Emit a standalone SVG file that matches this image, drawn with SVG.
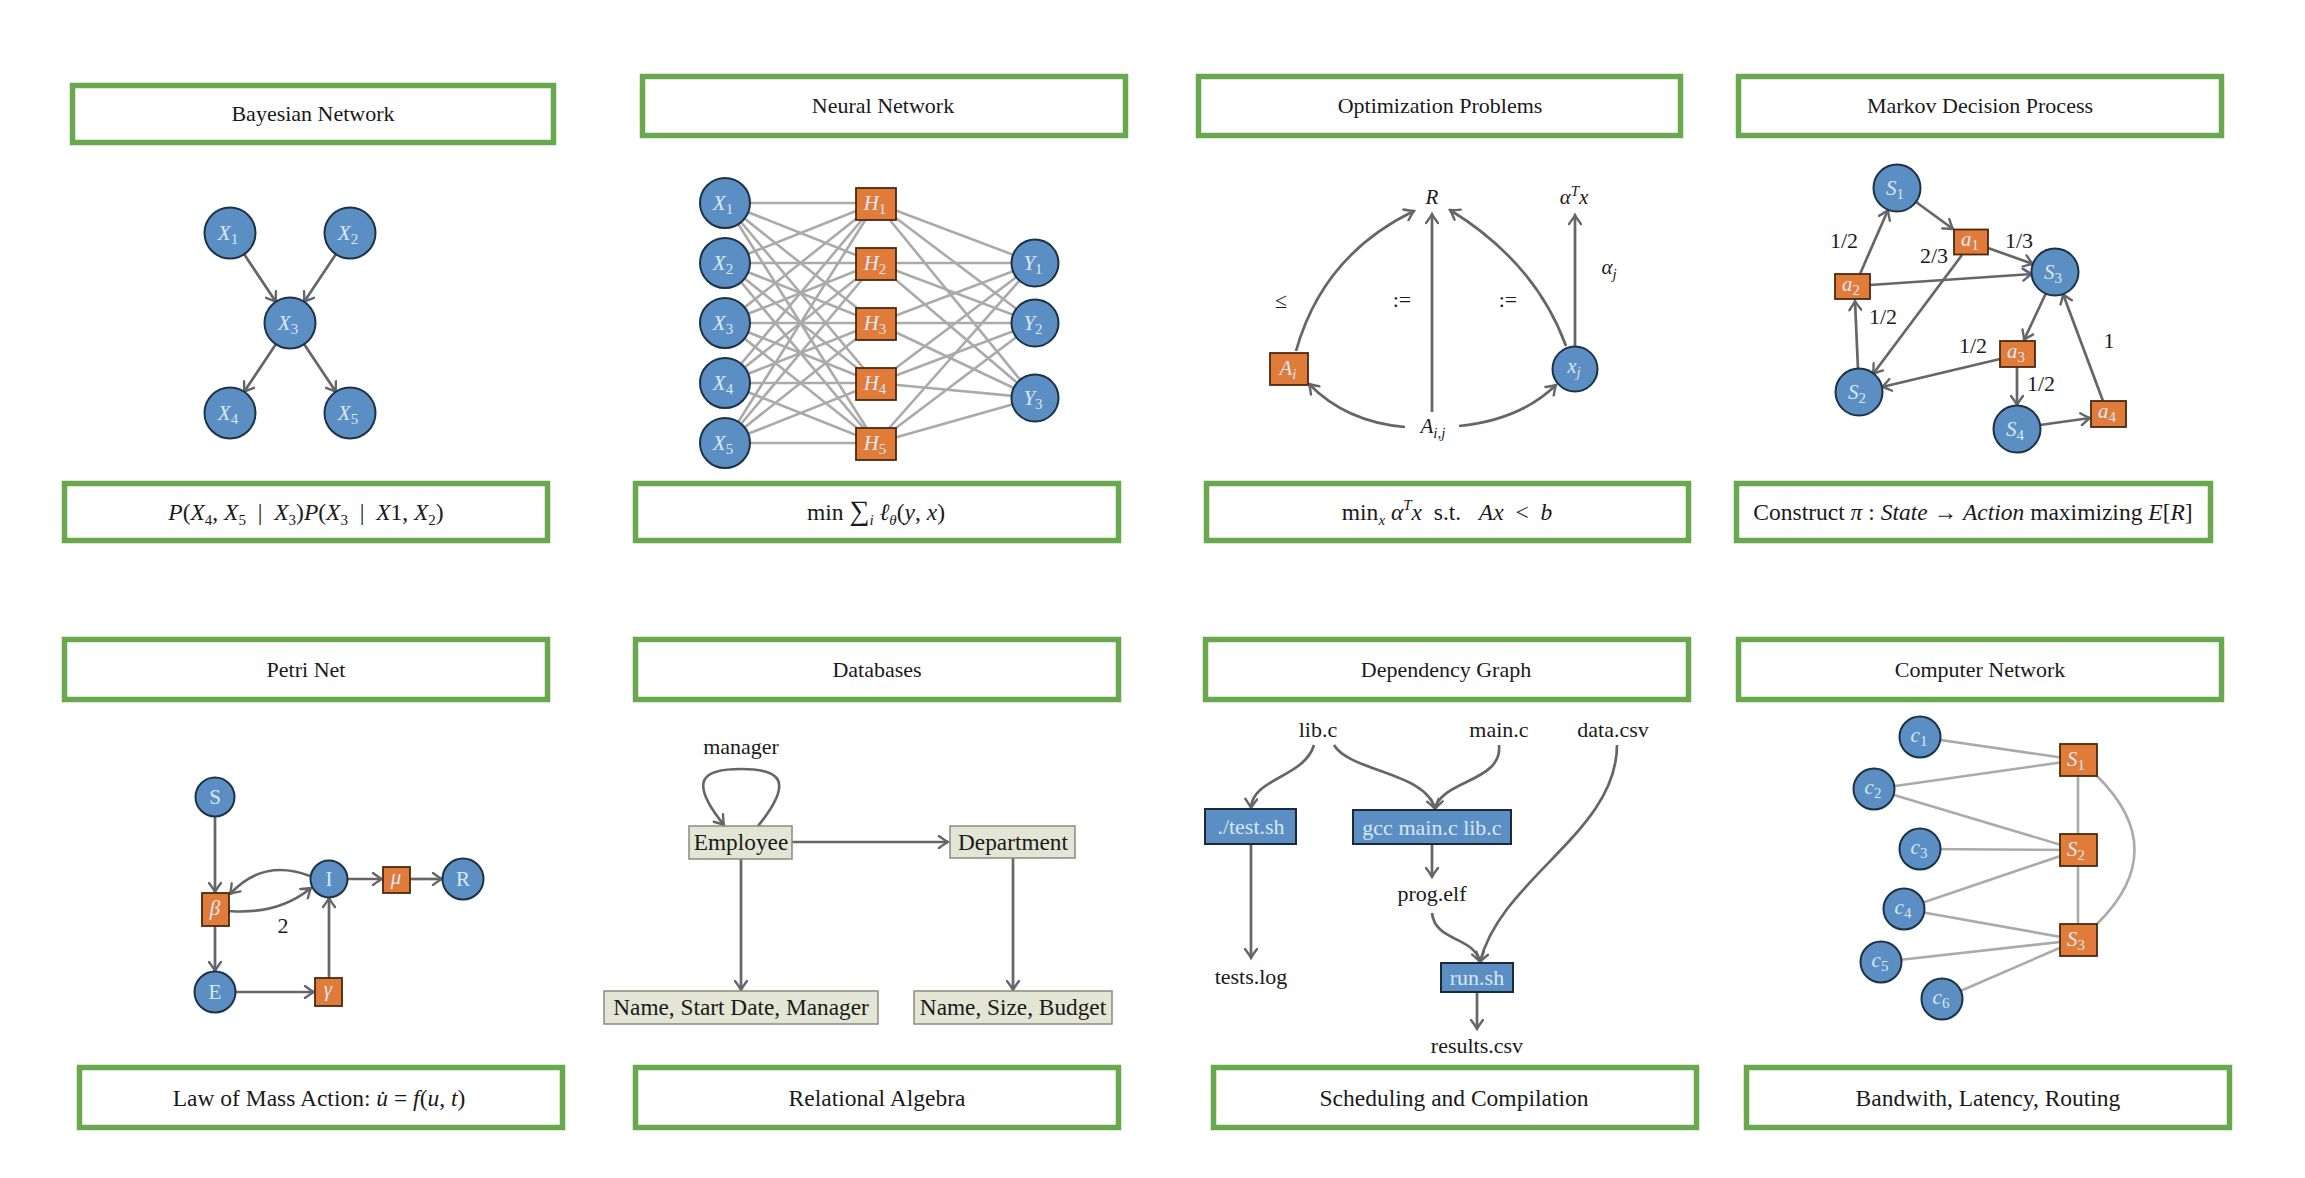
<svg xmlns="http://www.w3.org/2000/svg" width="2305" height="1178" viewBox="0 0 2305 1178">
<defs>
<style>
.frame{fill:#fff;stroke:#6aa84f;stroke-width:5.5}
.ft{font-family:"Liberation Serif","DejaVu Serif",serif;font-size:22px;fill:#1a1a1a;text-anchor:middle}
.ct{font-family:"Liberation Serif","DejaVu Serif",serif;font-size:23.5px;fill:#1a1a1a;text-anchor:middle}
.mi{font-style:italic}
.sb{font-size:15px;font-style:normal}
.si{font-style:italic}
.bn{fill:#5b8ec2;stroke:#1e3246;stroke-width:2}
.on{fill:#e07b39;stroke:#4a2a12;stroke-width:1.8}
.nl{font-family:"Liberation Serif","DejaVu Serif",serif;font-style:italic;font-size:21px;fill:#d9e8f7;text-anchor:middle}
.nu{font-family:"Liberation Serif","DejaVu Serif",serif;font-size:21px;fill:#d9e8f7;text-anchor:middle}
.e{fill:none;stroke:#666;stroke-width:2.7;marker-end:url(#arr)}
.l{fill:none;stroke:#aaa;stroke-width:2.6}
.lbl{font-family:"Liberation Serif","DejaVu Serif",serif;font-size:22px;fill:#1a1a1a;text-anchor:middle}
.lbi{font-family:"Liberation Serif","DejaVu Serif",serif;font-size:21px;font-style:italic;fill:#1a1a1a;text-anchor:middle}
.db{fill:#e3e6d4;stroke:#8a8a80;stroke-width:1.5}
.dbt{font-family:"Liberation Serif","DejaVu Serif",serif;font-size:23.3px;fill:#1a1a1a;text-anchor:middle}
.dg{fill:#5b8ec2;stroke:#1a2a3a;stroke-width:2}
.dgt{font-family:"Liberation Serif","DejaVu Serif",serif;font-size:22px;fill:#d6e7f8;text-anchor:middle}
</style>
<marker id="arr" viewBox="-11 -7 13 14" refX="0" refY="0" markerWidth="13" markerHeight="14" markerUnits="userSpaceOnUse" orient="auto">
<path d="M-9,-6 Q-3,-1.5 0,0 Q-3,1.5 -9,6" fill="none" stroke="#666" stroke-width="2.4" stroke-linecap="round"/>
</marker>
</defs>
<rect x="0" y="0" width="2305" height="1178" fill="#fff"/>

<!-- Panel 1: Bayesian Network -->
<g id="p1-title"><rect class="frame" x="72.5" y="85.5" width="481" height="57"/><text class="ft" x="313" y="121">Bayesian Network</text></g>
<g id="p1-caption"><rect class="frame" x="64.5" y="483.5" width="483" height="57"/>
<text class="ct" x="306" y="520" font-size="25" xml:space="preserve"><tspan class="mi">P</tspan>(<tspan class="mi">X</tspan><tspan class="sb" dy="5">4</tspan><tspan dy="-5">, </tspan><tspan class="mi">X</tspan><tspan class="sb" dy="5">5</tspan><tspan dy="-5">  |  </tspan><tspan class="mi">X</tspan><tspan class="sb" dy="5">3</tspan><tspan dy="-5">)</tspan><tspan class="mi">P</tspan>(<tspan class="mi">X</tspan><tspan class="sb" dy="5">3</tspan><tspan dy="-5">  |  </tspan><tspan class="mi">X</tspan>1, <tspan class="mi">X</tspan><tspan class="sb" dy="5">2</tspan><tspan dy="-5">)</tspan></text></g>
<g id="p1-edges">
<line class="e" x1="244" y1="254" x2="276" y2="302"/>
<line class="e" x1="336" y1="254" x2="304" y2="302"/>
<line class="e" x1="276" y1="344" x2="244" y2="392"/>
<line class="e" x1="304" y1="344" x2="336" y2="392"/>
</g>
<g id="bn-x1"><circle class="bn" cx="230" cy="233" r="25.5"/><text class="nl" x="228" y="240">X<tspan class="sb" dy="4">1</tspan></text></g>
<g id="bn-x2"><circle class="bn" cx="350" cy="233" r="25.5"/><text class="nl" x="348" y="240">X<tspan class="sb" dy="4">2</tspan></text></g>
<g id="bn-x3"><circle class="bn" cx="290" cy="323" r="25.5"/><text class="nl" x="288" y="330">X<tspan class="sb" dy="4">3</tspan></text></g>
<g id="bn-x4"><circle class="bn" cx="230" cy="413" r="25.5"/><text class="nl" x="228" y="420">X<tspan class="sb" dy="4">4</tspan></text></g>
<g id="bn-x5"><circle class="bn" cx="350" cy="413" r="25.5"/><text class="nl" x="348" y="420">X<tspan class="sb" dy="4">5</tspan></text></g>

<!-- Panel 2: Neural Network -->
<g id="p2-title"><rect class="frame" x="642.5" y="76.5" width="483" height="59"/><text class="ft" x="883" y="113">Neural Network</text></g>
<g id="p2-caption"><rect class="frame" x="635.5" y="483.5" width="483" height="57"/>
<text class="ct" x="876" y="520">min <tspan font-size="28">∑</tspan><tspan class="sb si" dy="5">i</tspan><tspan dy="-5"> </tspan><tspan class="mi">ℓ</tspan><tspan class="sb si" dy="5">θ</tspan><tspan dy="-5">(</tspan><tspan class="mi">y</tspan>, <tspan class="mi">x</tspan>)</text></g>
<g id="p2-edges">
<line class="l" x1="725" y1="203" x2="876" y2="203"/><line class="l" x1="725" y1="203" x2="876" y2="263"/><line class="l" x1="725" y1="203" x2="876" y2="323"/><line class="l" x1="725" y1="203" x2="876" y2="383"/><line class="l" x1="725" y1="203" x2="876" y2="443"/>
<line class="l" x1="725" y1="263" x2="876" y2="203"/><line class="l" x1="725" y1="263" x2="876" y2="263"/><line class="l" x1="725" y1="263" x2="876" y2="323"/><line class="l" x1="725" y1="263" x2="876" y2="383"/><line class="l" x1="725" y1="263" x2="876" y2="443"/>
<line class="l" x1="725" y1="323" x2="876" y2="203"/><line class="l" x1="725" y1="323" x2="876" y2="263"/><line class="l" x1="725" y1="323" x2="876" y2="323"/><line class="l" x1="725" y1="323" x2="876" y2="383"/><line class="l" x1="725" y1="323" x2="876" y2="443"/>
<line class="l" x1="725" y1="383" x2="876" y2="203"/><line class="l" x1="725" y1="383" x2="876" y2="263"/><line class="l" x1="725" y1="383" x2="876" y2="323"/><line class="l" x1="725" y1="383" x2="876" y2="383"/><line class="l" x1="725" y1="383" x2="876" y2="443"/>
<line class="l" x1="725" y1="443" x2="876" y2="203"/><line class="l" x1="725" y1="443" x2="876" y2="263"/><line class="l" x1="725" y1="443" x2="876" y2="323"/><line class="l" x1="725" y1="443" x2="876" y2="383"/><line class="l" x1="725" y1="443" x2="876" y2="443"/>
<line class="l" x1="876" y1="203" x2="1035" y2="263"/><line class="l" x1="876" y1="203" x2="1035" y2="323"/><line class="l" x1="876" y1="203" x2="1035" y2="398"/>
<line class="l" x1="876" y1="263" x2="1035" y2="263"/><line class="l" x1="876" y1="263" x2="1035" y2="323"/><line class="l" x1="876" y1="263" x2="1035" y2="398"/>
<line class="l" x1="876" y1="323" x2="1035" y2="263"/><line class="l" x1="876" y1="323" x2="1035" y2="323"/><line class="l" x1="876" y1="323" x2="1035" y2="398"/>
<line class="l" x1="876" y1="383" x2="1035" y2="263"/><line class="l" x1="876" y1="383" x2="1035" y2="323"/><line class="l" x1="876" y1="383" x2="1035" y2="398"/>
<line class="l" x1="876" y1="443" x2="1035" y2="263"/><line class="l" x1="876" y1="443" x2="1035" y2="323"/><line class="l" x1="876" y1="443" x2="1035" y2="398"/>
</g>
<g id="nn-x1"><circle class="bn" cx="725" cy="203" r="25"/><text class="nl" x="723" y="210">X<tspan class="sb" dy="4">1</tspan></text></g>
<g id="nn-x2"><circle class="bn" cx="725" cy="263" r="25"/><text class="nl" x="723" y="270">X<tspan class="sb" dy="4">2</tspan></text></g>
<g id="nn-x3"><circle class="bn" cx="725" cy="323" r="25"/><text class="nl" x="723" y="330">X<tspan class="sb" dy="4">3</tspan></text></g>
<g id="nn-x4"><circle class="bn" cx="725" cy="383" r="25"/><text class="nl" x="723" y="390">X<tspan class="sb" dy="4">4</tspan></text></g>
<g id="nn-x5"><circle class="bn" cx="725" cy="443" r="25"/><text class="nl" x="723" y="450">X<tspan class="sb" dy="4">5</tspan></text></g>
<g id="nn-h1"><rect class="on" x="856" y="188" width="40" height="32"/><text class="nl" x="875" y="210">H<tspan class="sb" dy="4">1</tspan></text></g>
<g id="nn-h2"><rect class="on" x="856" y="248" width="40" height="32"/><text class="nl" x="875" y="270">H<tspan class="sb" dy="4">2</tspan></text></g>
<g id="nn-h3"><rect class="on" x="856" y="308" width="40" height="32"/><text class="nl" x="875" y="330">H<tspan class="sb" dy="4">3</tspan></text></g>
<g id="nn-h4"><rect class="on" x="856" y="368" width="40" height="32"/><text class="nl" x="875" y="390">H<tspan class="sb" dy="4">4</tspan></text></g>
<g id="nn-h5"><rect class="on" x="856" y="428" width="40" height="32"/><text class="nl" x="875" y="450">H<tspan class="sb" dy="4">5</tspan></text></g>
<g id="nn-y1"><circle class="bn" cx="1035" cy="263" r="23.5"/><text class="nl" x="1033" y="270">Y<tspan class="sb" dy="4">1</tspan></text></g>
<g id="nn-y2"><circle class="bn" cx="1035" cy="323" r="23.5"/><text class="nl" x="1033" y="330">Y<tspan class="sb" dy="4">2</tspan></text></g>
<g id="nn-y3"><circle class="bn" cx="1035" cy="398" r="23.5"/><text class="nl" x="1033" y="405">Y<tspan class="sb" dy="4">3</tspan></text></g>

<!-- Panel 3: Optimization Problems -->
<g id="p3-title"><rect class="frame" x="1198.5" y="76.5" width="482" height="59"/><text class="ft" x="1440" y="113">Optimization Problems</text></g>
<g id="p3-caption"><rect class="frame" x="1206.5" y="483.5" width="482" height="57"/>
<text class="ct" x="1447" y="520" font-size="24.5" xml:space="preserve">min<tspan class="sb si" dy="5">x</tspan><tspan dy="-5"> </tspan><tspan class="mi">α</tspan><tspan class="sb si" dy="-10">T</tspan><tspan class="mi" dy="10">x</tspan>  s.t.   <tspan class="mi">Ax</tspan>  &lt;  <tspan class="mi">b</tspan></text></g>
<g id="p3-edges">
<path class="e" d="M1296,351 Q1323,255 1414,211"/>
<line class="e" x1="1432" y1="412" x2="1432" y2="214"/>
<path class="e" d="M1566,346 Q1535,262 1450,210"/>
<line class="e" x1="1575" y1="347" x2="1575" y2="215"/>
<path class="e" d="M1405,427 Q1346,422 1309,384"/>
<path class="e" d="M1459,426 Q1520,420 1556,385"/>
<text class="lbl" x="1281" y="308" font-size="24">≤</text>
<text class="lbl" x="1402" y="307" font-size="24">:=</text>
<text class="lbl" x="1508" y="307" font-size="24">:=</text>
<text class="lbi" x="1609" y="274">α<tspan class="sb si" dy="5">j</tspan></text>
</g>
<g id="op-r"><text class="lbi" x="1432" y="204">R</text></g>
<g id="op-atx"><text class="lbi" x="1574" y="204">α<tspan class="sb si" dy="-8">T</tspan><tspan dy="8">x</tspan></text></g>
<g id="op-ai"><rect class="on" x="1270" y="353" width="38" height="32"/><text class="nl" x="1288" y="375">A<tspan class="sb si" dy="4">i</tspan></text></g>
<g id="op-xj"><circle class="bn" cx="1575" cy="369" r="22.5"/><text class="nl" x="1574" y="373">x<tspan class="sb si" dy="4">j</tspan></text></g>
<g id="op-aij"><text class="lbi" x="1433" y="433">A<tspan class="sb si" dy="5">i,j</tspan></text></g>

<!-- Panel 4: Markov Decision Process -->
<g id="p4-title"><rect class="frame" x="1738.5" y="76.5" width="483" height="59"/><text class="ft" x="1980" y="113">Markov Decision Process</text></g>
<g id="p4-caption"><rect class="frame" x="1736.5" y="483.5" width="474" height="57"/>
<text class="ct" x="1973" y="520">Construct <tspan class="mi">π</tspan> : <tspan class="mi">State</tspan> → <tspan class="mi">Action</tspan> maximizing <tspan class="mi">E</tspan>[<tspan class="mi">R</tspan>]</text></g>
<g id="p4-edges">
<line class="e" x1="1916" y1="202" x2="1953" y2="229"/>
<line class="e" x1="1988" y1="248" x2="2033" y2="264"/>
<line class="e" x1="1962" y1="255" x2="1873" y2="374"/>
<line class="e" x1="1860" y1="274" x2="1888" y2="210"/>
<line class="e" x1="1870" y1="285" x2="2032" y2="274"/>
<line class="e" x1="1858" y1="369" x2="1855" y2="301"/>
<line class="e" x1="2046" y1="293" x2="2024" y2="340"/>
<line class="e" x1="2000" y1="359" x2="1882" y2="387"/>
<line class="e" x1="2017" y1="367" x2="2017" y2="405"/>
<line class="e" x1="2040" y1="425" x2="2090" y2="418"/>
<line class="e" x1="2103" y1="401" x2="2063" y2="294"/>
<text class="lbl" x="1844" y="248">1/2</text>
<text class="lbl" x="1934" y="263">2/3</text>
<text class="lbl" x="2019" y="248">1/3</text>
<text class="lbl" x="1883" y="324">1/2</text>
<text class="lbl" x="1973" y="353">1/2</text>
<text class="lbl" x="2041" y="391">1/2</text>
<text class="lbl" x="2109" y="348">1</text>
</g>
<g id="mdp-s1"><circle class="bn" cx="1897" cy="188" r="23.5"/><text class="nl" x="1895" y="195">S<tspan class="sb" dy="4">1</tspan></text></g>
<g id="mdp-s2"><circle class="bn" cx="1859" cy="392" r="23.5"/><text class="nl" x="1857" y="399">S<tspan class="sb" dy="4">2</tspan></text></g>
<g id="mdp-s3"><circle class="bn" cx="2055" cy="272" r="23.5"/><text class="nl" x="2053" y="279">S<tspan class="sb" dy="4">3</tspan></text></g>
<g id="mdp-s4"><circle class="bn" cx="2017" cy="429" r="23.5"/><text class="nl" x="2015" y="436">S<tspan class="sb" dy="4">4</tspan></text></g>
<g id="mdp-a1"><rect class="on" x="1954" y="229.5" width="34" height="25"/><text class="nl" x="1970" y="246">a<tspan class="sb" dy="4">1</tspan></text></g>
<g id="mdp-a2"><rect class="on" x="1835" y="274" width="35" height="25"/><text class="nl" x="1851" y="291">a<tspan class="sb" dy="4">2</tspan></text></g>
<g id="mdp-a3"><rect class="on" x="2000" y="341" width="35" height="26"/><text class="nl" x="2016" y="358">a<tspan class="sb" dy="4">3</tspan></text></g>
<g id="mdp-a4"><rect class="on" x="2091" y="401" width="35" height="26"/><text class="nl" x="2107" y="418">a<tspan class="sb" dy="4">4</tspan></text></g>

<!-- Panel 5: Petri Net -->
<g id="p5-title"><rect class="frame" x="64.5" y="639.5" width="483" height="60"/><text class="ft" x="306" y="677">Petri Net</text></g>
<g id="p5-caption"><rect class="frame" x="79.5" y="1067.5" width="483" height="60"/>
<text class="ct" x="319" y="1106">Law of Mass Action:  <tspan class="mi">u̇</tspan> = <tspan class="mi">f</tspan>(<tspan class="mi">u</tspan>, <tspan class="mi">t</tspan>)</text></g>
<g id="p5-edges">
<line class="e" x1="215" y1="817" x2="215" y2="892"/>
<line class="e" x1="215" y1="926" x2="215" y2="971"/>
<line class="e" x1="235" y1="992" x2="314" y2="992"/>
<line class="e" x1="329" y1="978" x2="329" y2="898"/>
<line class="e" x1="347" y1="879" x2="382" y2="879"/>
<line class="e" x1="410" y1="879" x2="442" y2="879"/>
<path class="e" d="M229,911 Q278,915 311,888"/>
<path class="e" d="M310,876 Q263,858 230,894"/>
<text class="lbl" x="283" y="933">2</text>
</g>
<g id="pn-s"><circle class="bn" cx="215" cy="797" r="19.5"/><text class="nu" x="215" y="804">S</text></g>
<g id="pn-i"><circle class="bn" cx="329" cy="879" r="18.5"/><text class="nu" x="329" y="886">I</text></g>
<g id="pn-r"><circle class="bn" cx="463" cy="879" r="20.5"/><text class="nu" x="463" y="886">R</text></g>
<g id="pn-e"><circle class="bn" cx="215" cy="992" r="20.5"/><text class="nu" x="215" y="999">E</text></g>
<g id="pn-beta"><rect class="on" x="202" y="893" width="27" height="33"/><text class="nl" x="215" y="915">β</text></g>
<g id="pn-mu"><rect class="on" x="383" y="867" width="27" height="26"/><text class="nl" x="396" y="884">μ</text></g>
<g id="pn-gamma"><rect class="on" x="315" y="978" width="27" height="28"/><text class="nl" x="328" y="996">γ</text></g>

<!-- Panel 6: Databases -->
<g id="p6-title"><rect class="frame" x="635.5" y="639.5" width="483" height="60"/><text class="ft" x="877" y="677">Databases</text></g>
<g id="p6-caption"><rect class="frame" x="635.5" y="1067.5" width="483" height="60"/><text class="ct" x="877" y="1106">Relational Algebra</text></g>
<g id="p6-edges">
<line class="e" x1="792" y1="842" x2="948" y2="842"/>
<line class="e" x1="741" y1="859" x2="741" y2="990"/>
<line class="e" x1="1013" y1="858" x2="1013" y2="990"/>
<path class="e" d="M758,826 C797,778 777,769 741,769 C705,769 686,778 724,825"/>
<text class="lbl" x="741" y="754" font-size="23.5">manager</text>
</g>
<g id="db-employee"><rect class="db" x="689" y="826" width="103" height="33"/><text class="dbt" x="741" y="850">Employee</text></g>
<g id="db-department"><rect class="db" x="950" y="826" width="125" height="32"/><text class="dbt" x="1013" y="850">Department</text></g>
<g id="db-emp-attrs"><rect class="db" x="604" y="991" width="274" height="33"/><text class="dbt" x="741" y="1015">Name, Start Date, Manager</text></g>
<g id="db-dep-attrs"><rect class="db" x="914" y="991" width="198" height="33"/><text class="dbt" x="1013" y="1015">Name, Size, Budget</text></g>

<!-- Panel 7: Dependency Graph -->
<g id="p7-title"><rect class="frame" x="1205.5" y="639.5" width="483" height="60"/><text class="ft" x="1446" y="677">Dependency Graph</text></g>
<g id="p7-caption"><rect class="frame" x="1213.5" y="1067.5" width="483" height="60"/><text class="ct" x="1454" y="1106">Scheduling and Compilation</text></g>
<g id="p7-edges">
<path class="e" d="M1314,745 C1304,778 1252,778 1251,808"/>
<path class="e" d="M1334,745 C1350,772 1426,772 1435,809"/>
<path class="e" d="M1499,745 C1503,782 1441,780 1435,809"/>
<line class="e" x1="1432" y1="844" x2="1432" y2="877"/>
<path class="e" d="M1432,913 C1435,942 1474,936 1480,962"/>
<path class="e" d="M1617,745 C1617,832 1501,878 1480,962"/>
<line class="e" x1="1251" y1="844" x2="1251" y2="958"/>
<line class="e" x1="1477" y1="992" x2="1477" y2="1029"/>
</g>
<g id="dg-libc"><text class="lbl" x="1318" y="737">lib.c</text></g>
<g id="dg-mainc"><text class="lbl" x="1499" y="737">main.c</text></g>
<g id="dg-datacsv"><text class="lbl" x="1613" y="737">data.csv</text></g>
<g id="dg-test"><rect class="dg" x="1205" y="809" width="91" height="35"/><text class="dgt" x="1251" y="834">./test.sh</text></g>
<g id="dg-gcc"><rect class="dg" x="1353" y="810" width="158" height="34"/><text class="dgt" x="1432" y="835">gcc main.c lib.c</text></g>
<g id="dg-progelf"><text class="lbl" x="1432" y="901">prog.elf</text></g>
<g id="dg-testslog"><text class="lbl" x="1251" y="984">tests.log</text></g>
<g id="dg-run"><rect class="dg" x="1441" y="963" width="72" height="29"/><text class="dgt" x="1477" y="985">run.sh</text></g>
<g id="dg-results"><text class="lbl" x="1477" y="1053">results.csv</text></g>

<!-- Panel 8: Computer Network -->
<g id="p8-title"><rect class="frame" x="1738.5" y="639.5" width="483" height="60"/><text class="ft" x="1980" y="677">Computer Network</text></g>
<g id="p8-caption"><rect class="frame" x="1746.5" y="1067.5" width="483" height="60"/><text class="ct" x="1988" y="1106">Bandwith, Latency, Routing</text></g>
<g id="p8-edges">
<line class="l" x1="1920" y1="737" x2="2078" y2="760"/>
<line class="l" x1="1874" y1="789" x2="2078" y2="760"/>
<line class="l" x1="1874" y1="789" x2="2078" y2="850"/>
<line class="l" x1="1920" y1="849" x2="2078" y2="850"/>
<line class="l" x1="1904" y1="909" x2="2078" y2="850"/>
<line class="l" x1="1904" y1="909" x2="2078" y2="940"/>
<line class="l" x1="1881" y1="962" x2="2078" y2="940"/>
<line class="l" x1="1942" y1="999" x2="2078" y2="940"/>
<line class="l" x1="2078" y1="760" x2="2078" y2="850"/>
<line class="l" x1="2078" y1="850" x2="2078" y2="940"/>
<path class="l" d="M2097,776 Q2172,850 2097,924"/>
</g>
<g id="cn-c1"><circle class="bn" cx="1920" cy="737" r="20.5"/><text class="nl" x="1919" y="742">c<tspan class="sb" dy="4">1</tspan></text></g>
<g id="cn-c2"><circle class="bn" cx="1874" cy="789" r="20.5"/><text class="nl" x="1873" y="794">c<tspan class="sb" dy="4">2</tspan></text></g>
<g id="cn-c3"><circle class="bn" cx="1920" cy="849" r="20.5"/><text class="nl" x="1919" y="854">c<tspan class="sb" dy="4">3</tspan></text></g>
<g id="cn-c4"><circle class="bn" cx="1904" cy="909" r="20.5"/><text class="nl" x="1903" y="914">c<tspan class="sb" dy="4">4</tspan></text></g>
<g id="cn-c5"><circle class="bn" cx="1881" cy="962" r="20.5"/><text class="nl" x="1880" y="967">c<tspan class="sb" dy="4">5</tspan></text></g>
<g id="cn-c6"><circle class="bn" cx="1942" cy="999" r="20.5"/><text class="nl" x="1941" y="1004">c<tspan class="sb" dy="4">6</tspan></text></g>
<g id="cn-s1"><rect class="on" x="2060" y="744" width="37" height="32"/><text class="nl" x="2076" y="766">S<tspan class="sb" dy="4">1</tspan></text></g>
<g id="cn-s2"><rect class="on" x="2060" y="834" width="37" height="32"/><text class="nl" x="2076" y="856">S<tspan class="sb" dy="4">2</tspan></text></g>
<g id="cn-s3"><rect class="on" x="2060" y="924" width="37" height="32"/><text class="nl" x="2076" y="946">S<tspan class="sb" dy="4">3</tspan></text></g>
</svg>
